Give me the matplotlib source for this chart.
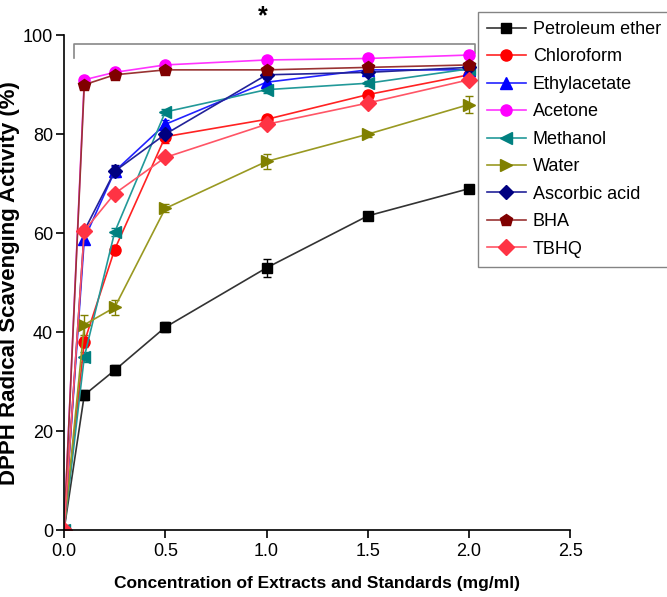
import numpy as np
import matplotlib.pyplot as plt

plt.rcParams['font.family'] = ['Liberation Sans', 'DejaVu Sans']

conc = [0, 0.1, 0.25, 0.5, 1.0, 1.5, 2.0]

names = ['Petroleum ether', 'Chloroform', 'Ethylacetate', 'Acetone', 'Methanol',
         'Water', 'Ascorbic acid', 'BHA', 'TBHQ']

petroleum = [0, 27.3, 32.3, 41.0, 53.0, 63.5, 69.0]
chloroform = [0, 38.0, 56.7, 79.5, 83.0, 88.0, 92.0]
ethylacetate = [0, 58.8, 72.5, 82.0, 90.5, 93.0, 93.0]
acetone = [0, 91.0, 92.5, 94.0, 95.0, 95.3, 96.0]
methanol = [0, 35.0, 60.2, 84.5, 89.0, 90.3, 93.2]
water = [0, 41.5, 45.0, 65.0, 74.5, 80.0, 86.0]
ascorbic = [0, 60.5, 72.5, 80.0, 92.0, 92.5, 93.5]
bha = [0, 90.0, 92.0, 93.0, 93.0, 93.5, 94.0]
tbhq = [0, 60.5, 68.0, 75.3, 82.0, 86.3, 91.0]

petroleum_err = [0, 1.0, 1.0, 1.0, 1.8, 0.6, 0.6]
chloroform_err = [0, 1.0, 0.8, 1.2, 0.8, 0.8, 0.6]
ethylacetate_err = [0, 1.0, 1.0, 0.8, 0.6, 0.5, 0.5]
acetone_err = [0, 0.6, 0.5, 0.5, 0.5, 0.5, 0.5]
methanol_err = [0, 1.0, 0.8, 0.6, 0.6, 0.5, 0.5]
water_err = [0, 2.0, 1.5, 0.8, 1.5, 0.5, 1.8]
ascorbic_err = [0, 0.8, 1.2, 0.8, 0.6, 0.5, 0.5]
bha_err = [0, 0.6, 0.5, 0.5, 0.5, 0.5, 0.5]
tbhq_err = [0, 0.8, 0.8, 0.8, 0.6, 0.6, 0.6]

series = [petroleum, chloroform, ethylacetate, acetone, methanol, water, ascorbic, bha, tbhq]
errors = [petroleum_err, chloroform_err, ethylacetate_err, acetone_err, methanol_err,
          water_err, ascorbic_err, bha_err, tbhq_err]
colors = ['#000000', '#ff0000', '#0000ff', '#ff00ff', '#008080',
          '#808000', '#000080', '#800000', '#ff3344']
line_colors = ['#333333', '#ff2222', '#2222ff', '#ff33ff', '#229999',
               '#999922', '#222299', '#993333', '#ff5566']
markers = ['s', 'o', '^', 'o', '<', '>', 'D', 'p', 'D']
msizes = [7, 8, 8, 8, 8, 9, 7, 9, 8]

# bracket + star (significance marker)
bracket_x = [0.05, 0.05, 2.03, 2.03]
bracket_y = [95.3, 98.2, 98.2, 96.4]
star_pos = (0.98, 101.3)

fig = plt.figure(figsize=(6.67, 5.97), dpi=100)
ax = fig.add_axes([0.096, 0.112, 0.759, 0.829])

handles = []
for name, y, err, c, lc, m, ms in zip(names, series, errors, colors, line_colors, markers, msizes):
    cont = ax.errorbar(conc, y, yerr=err, color=lc, lw=1.2, marker=m, markersize=ms,
                       markerfacecolor=c, markeredgecolor=c, ecolor=c, elinewidth=1,
                       capsize=3, capthick=1, label=name)
    handles.append(cont.lines[0])

ax.plot(bracket_x, bracket_y, color='#888888', lw=1.2, clip_on=False)
ax.text(star_pos[0], star_pos[1], '*', fontsize=18, fontweight='bold',
        ha='center', va='bottom', clip_on=False)

ax.set_xlim(0, 2.5)
ax.set_ylim(0, 100)
ax.set_xticks([0, 0.5, 1.0, 1.5, 2.0, 2.5])
ax.set_xticklabels(['0.0', '0.5', '1.0', '1.5', '2.0', '2.5'])
ax.set_yticks([0, 20, 40, 60, 80, 100])
ax.spines['top'].set_visible(False)
ax.spines['right'].set_visible(False)
ax.spines['left'].set_linewidth(1.2)
ax.spines['bottom'].set_linewidth(1.2)
ax.tick_params(direction='out', length=6, width=1.2, labelsize=13)
ax.tick_params(axis='y', pad=2)

ax.set_xlabel('Concentration of Extracts and Standards (mg/ml)', fontsize=12.5,
              fontweight='bold', labelpad=11)
ax.set_ylabel('DPPH Radical Scavenging Activity (%)', fontsize=16,
              fontweight='bold', labelpad=2)

leg = fig.legend(handles=handles, labels=names, loc='upper left',
                 bbox_to_anchor=(0.716, 0.98), fontsize=13, borderaxespad=0,
                 frameon=True, fancybox=False, edgecolor='#666666', borderpad=0.5,
                 labelspacing=0.58, handlelength=2.2, handletextpad=0.35)
leg.get_frame().set_linewidth(1.0)

fig.savefig('out.png', dpi=100)
